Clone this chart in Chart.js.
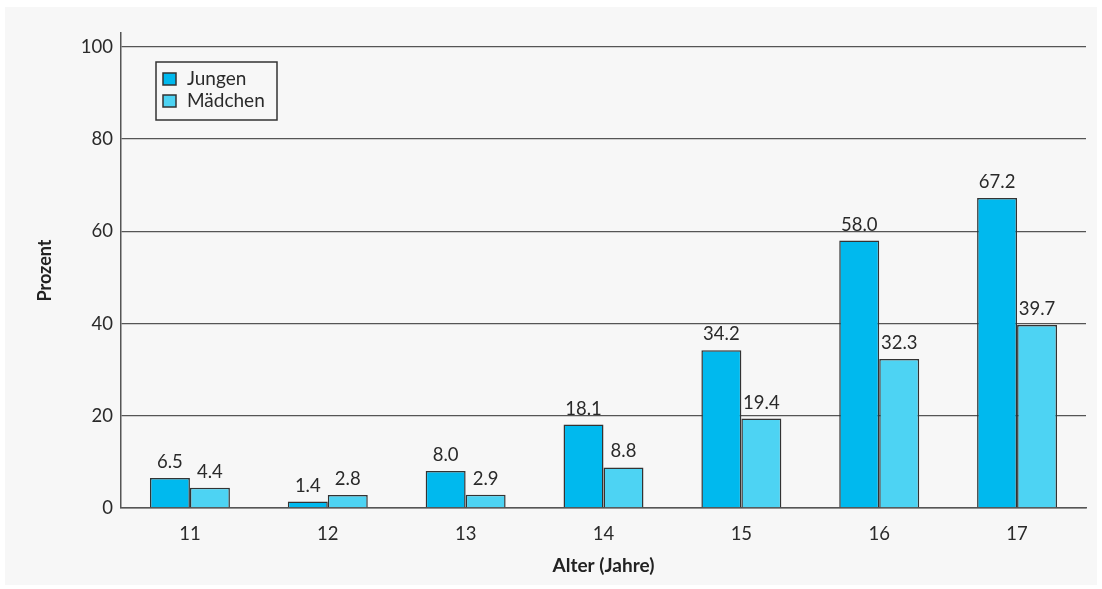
<!DOCTYPE html>
<html>
<head>
<meta charset="utf-8">
<script src="https://cdn.jsdelivr.net/npm/chart.js@4.4.1/dist/chart.umd.min.js"></script>
<style>
  body { margin: 0; background: #ffffff; }
  #wrap { position: absolute; left: 5px; top: 7px; width: 1092px; height: 578px; background: #f7f7f7; }
</style>
</head>
<body>
<div id="wrap"><canvas id="chart"></canvas></div>
<script>
const categories = ['11', '12', '13', '14', '15', '16', '17'];
const jungen = [6.5, 1.4, 8.0, 18.1, 34.2, 58.0, 67.2];
const maedchen = [4.4, 2.8, 2.9, 8.8, 19.4, 32.3, 39.7];
const seriesNames = ['Jungen', 'Mädchen'];
const yTicks = [0, 20, 40, 60, 80, 100];

const FONT = 'Lato, "Open Sans", sans-serif';
const TEXT = '#2a2a2a';
const LINE = '#555555';

// value labels above the bars
const valueLabels = {
  id: 'valueLabels',
  afterDatasetsDraw(chart) {
    const ctx = chart.ctx;
    ctx.save();
    ctx.font = '18.5px ' + FONT;
    ctx.fillStyle = TEXT;
    ctx.textAlign = 'center';
    ctx.textBaseline = 'alphabetic';
    chart.data.datasets.forEach((ds, i) => {
      chart.getDatasetMeta(i).data.forEach((bar, j) => {
        ctx.fillText(ds.data[j].toFixed(1), bar.x, bar.y - 10);
      });
    });
    ctx.restore();
  }
};

// boxed legend inside the plot
const boxLegend = {
  id: 'boxLegend',
  afterDraw(chart) {
    const ctx = chart.ctx;
    ctx.save();
    ctx.strokeStyle = '#333';
    ctx.lineWidth = 1.5;
    ctx.strokeRect(151, 55, 121, 58);
    ctx.font = '19px ' + FONT;
    ctx.textBaseline = 'middle';
    chart.data.datasets.forEach((ds, i) => {
      const y = 72 + i * 22;
      ctx.fillStyle = ds.backgroundColor;
      ctx.fillRect(158, y - 6, 13, 12);
      ctx.strokeRect(158, y - 6, 13, 12);
      ctx.fillStyle = TEXT;
      ctx.fillText(ds.label, 182, y);
    });
    ctx.restore();
  }
};

new Chart(document.getElementById('chart'), {
  type: 'bar',
  data: {
    labels: categories,
    datasets: [
      { label: seriesNames[0], data: jungen, backgroundColor: '#00b9ee', borderColor: '#333', borderWidth: 1.5 },
      { label: seriesNames[1], data: maedchen, backgroundColor: '#4dd3f3', borderColor: '#333', borderWidth: 1.5 }
    ]
  },
  options: {
    responsive: true,
    maintainAspectRatio: false,
    animation: false,
    layout: { padding: { left: 0, right: 11, top: 26, bottom: 0 } },
    datasets: { bar: { barPercentage: 1, categoryPercentage: 0.58 } },
    plugins: { legend: { display: false }, tooltip: { enabled: false } },
    scales: {
      x: {
        grid: { display: false, drawTicks: false },
        border: { display: true, color: LINE, width: 1.5 },
        ticks: { color: TEXT, font: { family: FONT, size: 18.5 }, padding: 15 },
        title: { display: true, text: 'Alter (Jahre)', color: '#222', font: { family: FONT, size: 19, weight: 'bold' }, padding: { top: 0, bottom: 8 } },
        afterFit(scale) { scale.height = 77; }
      },
      y: {
        min: 0,
        max: 103,
        ticks: { stepSize: 20, color: TEXT, font: { family: FONT, size: 18.5 }, padding: 8 },
        afterBuildTicks(scale) { scale.ticks = yTicks.map(v => ({ value: v })); },
        grid: { color: LINE, lineWidth: 1.3, drawTicks: false },
        border: { display: true, color: LINE, width: 1.5 },
        title: { display: true, text: 'Prozent', color: '#222', font: { family: FONT, size: 18, weight: 'bold' }, padding: { top: 29, bottom: 0 } },
        afterFit(scale) { scale.width = 116; }
      }
    }
  },
  plugins: [valueLabels, boxLegend]
});
</script>
</body>
</html>
